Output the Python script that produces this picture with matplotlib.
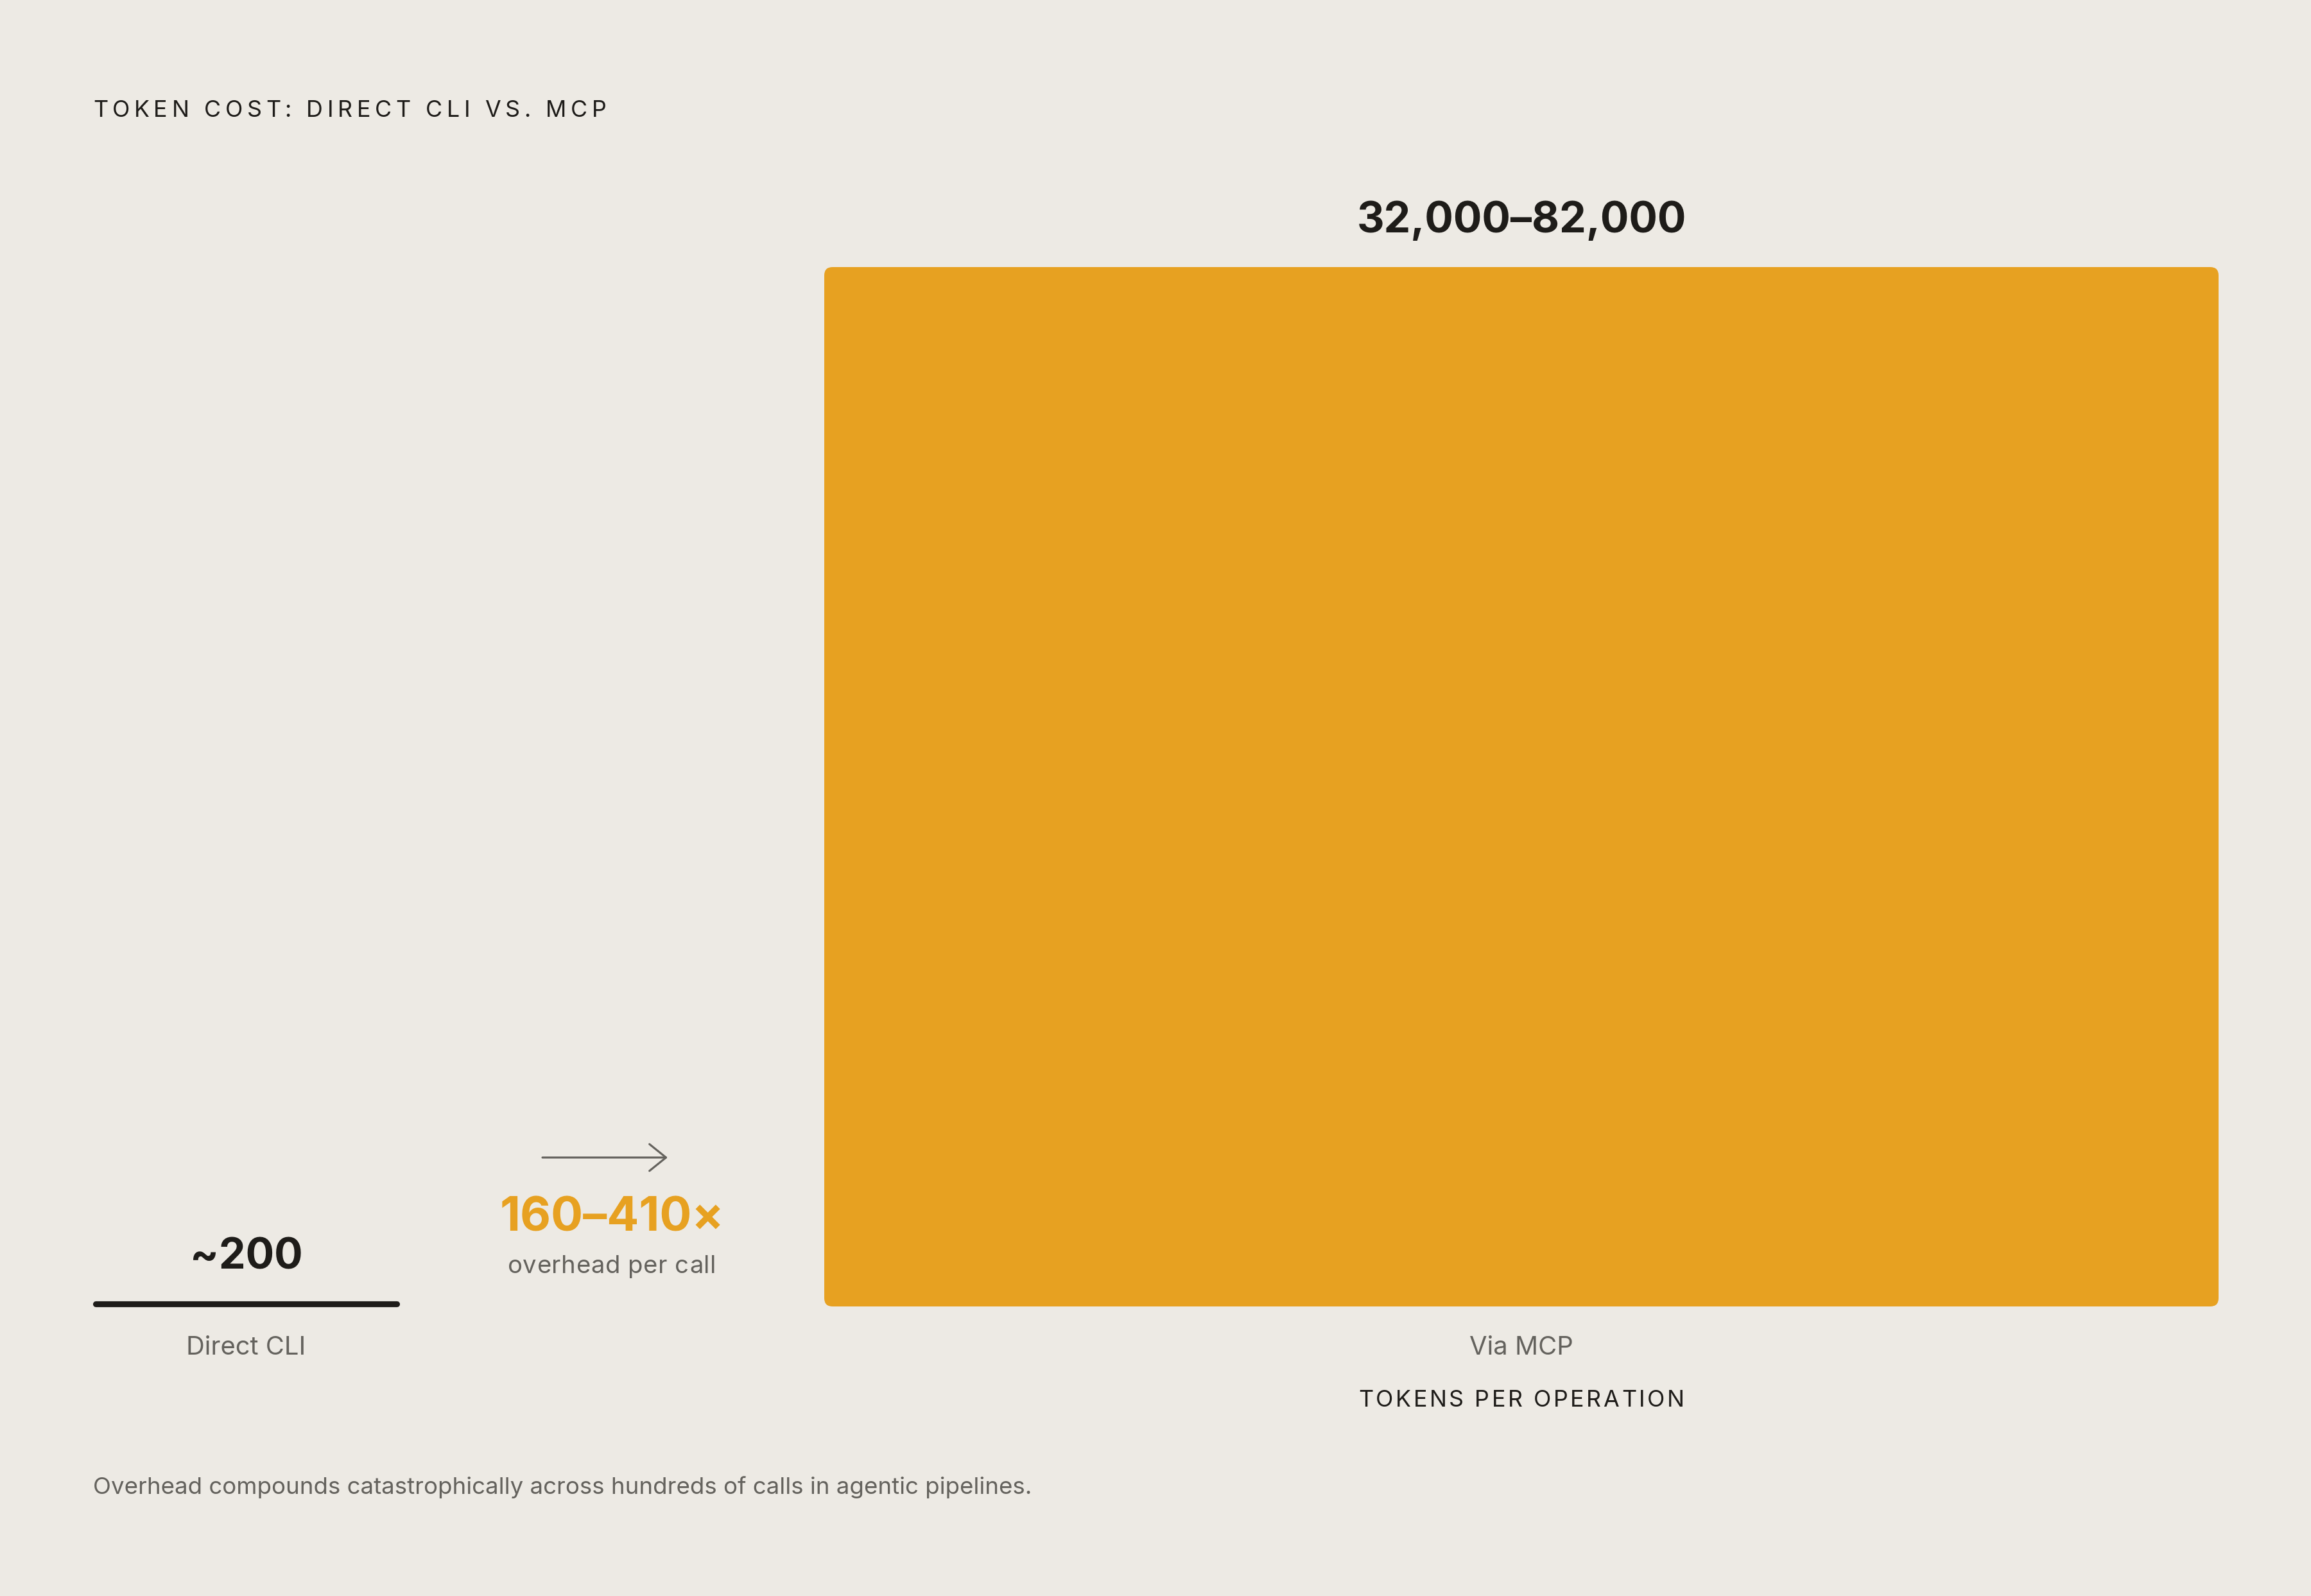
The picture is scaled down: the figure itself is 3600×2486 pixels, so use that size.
import matplotlib
matplotlib.use("Agg")
import matplotlib.pyplot as plt
from matplotlib.patches import FancyBboxPatch, FancyArrowPatch
from matplotlib.font_manager import FontProperties, findfont, get_font

# data
categories = ["Direct CLI", "Via MCP"]
tokens_low = [200, 32000]
tokens_high = [200, 82000]
value_labels = ["~200", "32,000\u201382,000"]
ratio_label = "160\u2013410\u00d7"
ratio_note = "overhead per call"
title = "TOKEN COST: DIRECT CLI VS. MCP"
axis_label = "TOKENS PER OPERATION"
footnote = "Overhead compounds catastrophically across hundreds of calls in agentic pipelines."

W, H = 3600, 2487
DPI = 300
FONT = ["Inter", "DejaVu Sans"]
bg_col = "#EDEAE4"
ink = "#1E1C19"
gray = "#64625D"
orange = "#E7A121"

# bar geometry in pixels (x), baseline / top in pixels from top
bar_left = [145, 1284]
bar_right = [622, 3456]
base_px, top_px = 2036, 417

fig = plt.figure(figsize=(W / DPI, H / DPI), dpi=DPI, facecolor=bg_col)

# full-figure axes for free text, in pixel units
tx = fig.add_axes([0, 0, 1, 1])
tx.set_xlim(0, W)
tx.set_ylim(H, 0)
tx.axis("off")

# chart axes: x in pixels, y in tokens
ax = fig.add_axes([0, (H - base_px) / H, 1, (base_px - top_px) / H])
ax.set_xlim(0, W)
ax.set_ylim(0, max(tokens_high))
ax.axis("off")
ax.patch.set_alpha(0)


def tracked(x, y, s, size, track, ha="left", weight="normal", color=ink):
    # letter-spaced text, x/y in pixels, y is baseline
    fp = FontProperties(family=FONT, weight=weight, size=size)
    font = get_font(findfont(fp))
    font.set_size(size, DPI)
    adv = [font.load_char(ord(c)).linearHoriAdvance / 65536 for c in s]
    total = sum(adv) + track * (len(s) - 1)
    if ha == "center":
        x = x - total / 2
    for c, a in zip(s, adv):
        tx.text(x, y, c, fontsize=size, family=FONT, weight=weight,
                color=color, ha="left", va="baseline")
        x += a + track


# bars
y_per_px = max(tokens_high) / (base_px - top_px)
for i in range(len(categories)):
    cx = (bar_left[i] + bar_right[i]) / 2
    if tokens_high[i] < 1000:
        # tiny value: drawn as a thick rule
        ax.plot([bar_left[i] + 4, bar_right[i] - 4], [tokens_high[i], tokens_high[i]],
                color=ink, lw=2.2, solid_capstyle="round", clip_on=False)
    else:
        p = FancyBboxPatch((bar_left[i], 0), bar_right[i] - bar_left[i], tokens_high[i],
                           boxstyle="round,pad=0,rounding_size=13",
                           mutation_aspect=y_per_px, fc=orange, ec="none")
        ax.add_patch(p)
    ax.annotate(value_labels[i], xy=(cx, tokens_high[i]), xytext=(0, 13.3),
                textcoords="offset points", ha="center", va="baseline",
                fontsize=15.9, weight="bold", family=FONT, color=ink)
    ax.annotate(categories[i], xy=(cx, 0), xytext=(0, -17.8),
                textcoords="offset points", ha="center", va="baseline",
                fontsize=9.6, family=FONT, color=gray)

# ratio callout
tx.add_patch(FancyArrowPatch((845, 1804), (1040, 1804),
                             arrowstyle="->,head_length=6.2,head_width=5",
                             mutation_scale=1, lw=0.75, color=gray,
                             shrinkA=0, shrinkB=0))
tx.text(953, 1918, ratio_label, ha="center", va="baseline", fontsize=17.8,
        weight="bold", family=FONT, color=orange)
tracked(953, 1983, ratio_note, 9.2, 0.6, ha="center", color=gray)

# titles and notes
tracked(145, 182, title, 8.6, 6.6, color=ink)
tracked(2370, 2191, axis_label, 8.6, 3.5, ha="center", color=ink)
tx.text(145, 2327, footnote, ha="left", va="baseline", fontsize=8.8,
        family=FONT, color=gray)

fig.savefig("out.png", dpi=DPI, facecolor=bg_col)
